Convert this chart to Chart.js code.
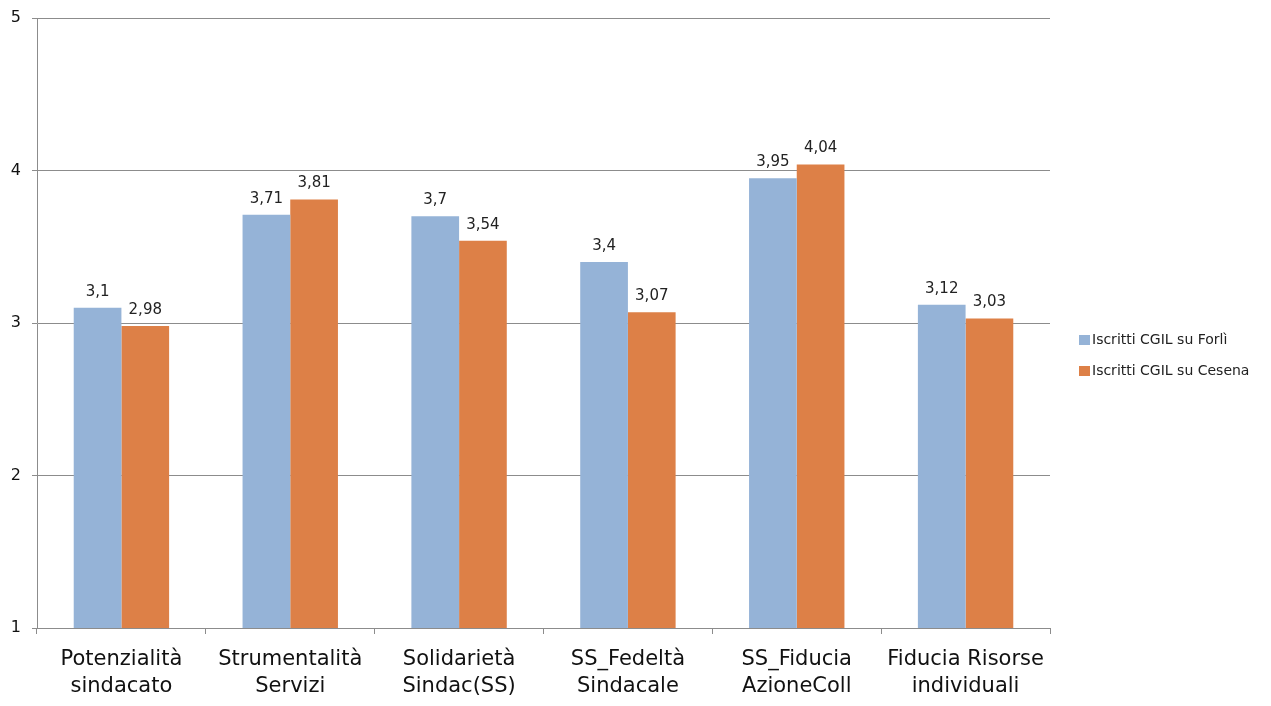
<!DOCTYPE html>
<html><head><meta charset="utf-8">
<script src="https://cdn.jsdelivr.net/npm/chart.js@4"></script>
<style>html,body{margin:0;padding:0;background:#fff;}#wrap{width:1271px;height:706px;}</style>
</head><body><div id="wrap"><canvas id="c" width="1271" height="706"></canvas></div>
<script>
const categories = [["Potenzialità","sindacato"],["Strumentalità","Servizi"],["Solidarietà","Sindac(SS)"],["SS_Fedeltà","Sindacale"],["SS_Fiducia","AzioneColl"],["Fiducia Risorse","individuali"]];
const seriesNames = ["Iscritti CGIL su Forlì","Iscritti CGIL su Cesena"];
const forli = [3.1,3.71,3.7,3.4,3.95,3.12];
const cesena = [2.98,3.81,3.54,3.07,4.04,3.03];
const yTicks = [1,2,3,4,5];
const colors = ["#95B3D7","#DD8047"];
const FONT = "DejaVu Sans";

const valueLabels = {
  id:'valueLabels',
  afterDatasetsDraw(chart){
    const ctx = chart.ctx;
    ctx.save();
    ctx.font = "15px " + FONT;
    ctx.fillStyle = "#222";
    ctx.textAlign = "center";
    ctx.textBaseline = "alphabetic";
    chart.data.datasets.forEach((ds,i)=>{
      chart.getDatasetMeta(i).data.forEach((bar,j)=>{
        ctx.fillText(String(ds.data[j]).replace('.',','), bar.x, bar.y - 12);
      });
    });
    ctx.restore();
  }
};
const sideLegend = {
  id:'sideLegend',
  afterDraw(chart){
    const ctx = chart.ctx;
    ctx.save();
    ctx.font = "14px " + FONT;
    ctx.textBaseline = "middle";
    ctx.textAlign = "left";
    const ys = [340, 371];
    chart.data.datasets.forEach((ds,i)=>{
      ctx.fillStyle = ds.backgroundColor;
      ctx.fillRect(1079, ys[i]-5, 11, 10);
      ctx.fillStyle = "#222";
      ctx.fillText(ds.label, 1092, ys[i]);
    });
    ctx.restore();
  }
};

new Chart(document.getElementById('c'), {
  type:'bar',
  data:{
    labels: categories,
    datasets:[
      {label:seriesNames[0], data:forli, backgroundColor:colors[0], barPercentage:1, categoryPercentage:0.565},
      {label:seriesNames[1], data:cesena, backgroundColor:colors[1], barPercentage:1, categoryPercentage:0.565}
    ]
  },
  plugins:[valueLabels, sideLegend],
  options:{
    responsive:false,
    animation:false,
    layout:{padding:{top:18,right:221,left:0,bottom:0}},
    plugins:{legend:{display:false},tooltip:{enabled:false}},
    scales:{
      x:{
        grid:{drawOnChartArea:false, drawTicks:true, tickLength:6, color:"#8c8c8c", offset:true},
        border:{color:"#8c8c8c"},
        ticks:{color:"#111", font:{family:FONT, size:21, lineHeight:1.3}, padding:12, maxRotation:0, autoSkip:false},
        afterFit(s){ s.height = 78; s.paddingLeft = 0; s.paddingRight = 0; }
      },
      y:{
        min:1, max:5,
        afterBuildTicks(s){ s.ticks = yTicks.map(v=>({value:v})); },
        grid:{color:"#8c8c8c", tickLength:5},
        border:{color:"#8c8c8c"},
        ticks:{color:"#111", font:{family:FONT, size:16}, padding:11},
        afterFit(s){ s.width = 37; s.paddingTop = 0; s.paddingBottom = 0; }
      }
    }
  }
});
</script></body></html>
